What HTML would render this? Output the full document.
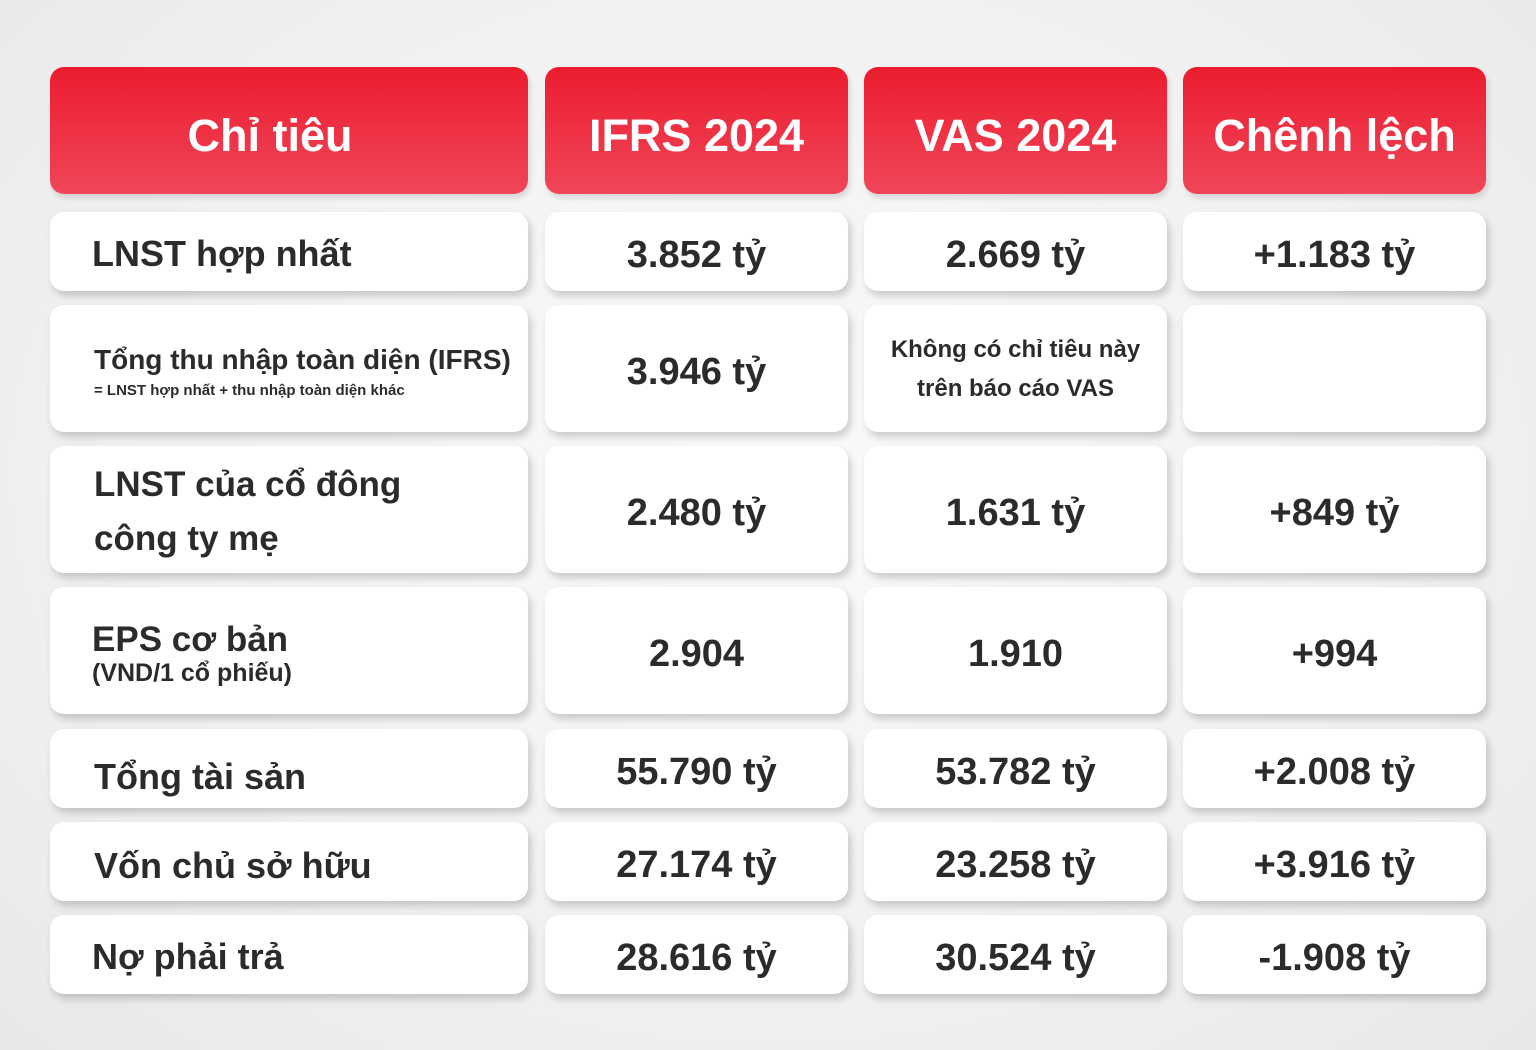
<!DOCTYPE html>
<html><head><meta charset="utf-8"><style>
*{margin:0;padding:0;box-sizing:border-box}
body{width:1536px;height:1050px;overflow:hidden;position:relative;font-family:"Liberation Sans","DejaVu Sans",sans-serif;
background:radial-gradient(ellipse at 50% 45%,#fafafa 0%,#f1f1f1 60%,#e8e8e8 100%);}
.c{position:absolute;border-radius:14px;background:#fff;box-shadow:3px 5px 8px rgba(0,0,0,0.18);display:flex;align-items:center;justify-content:center;color:#2b2b2b;font-weight:bold;text-align:center}
.h{background:linear-gradient(#ec1c2f,#ef4658);color:#fff;font-size:45px;padding-top:10px;box-shadow:2px 4px 6px rgba(0,0,0,0.12)}
.l{justify-content:flex-start;text-align:left;padding-left:44px}
.v{font-size:38px;padding-top:8px}
</style></head><body>
<div class="c h" style="left:50px;top:67px;width:478px;height:127px;padding-right:38px">Chỉ tiêu</div>
<div class="c h" style="left:545px;top:67px;width:303px;height:127px">IFRS 2024</div>
<div class="c h" style="left:864px;top:67px;width:303px;height:127px">VAS 2024</div>
<div class="c h" style="left:1183px;top:67px;width:303px;height:127px">Chênh lệch</div>

<div class="c l" style="left:50px;top:212px;width:478px;height:79px;font-size:36px;padding-left:42px;padding-top:4px">LNST hợp nhất</div>
<div class="c v" style="left:545px;top:212px;width:303px;height:79px">3.852 tỷ</div>
<div class="c v" style="left:864px;top:212px;width:303px;height:79px">2.669 tỷ</div>
<div class="c v" style="left:1183px;top:212px;width:303px;height:79px">+1.183 tỷ</div>

<div class="c l" style="left:50px;top:305px;width:478px;height:127px;flex-direction:column;align-items:flex-start;justify-content:center;padding-top:6px"><div style="font-size:28px">Tổng thu nhập toàn diện (IFRS)</div><div style="font-size:15px;margin-top:6px">= LNST hợp nhất + thu nhập toàn diện khác</div></div>
<div class="c v" style="left:545px;top:305px;width:303px;height:127px">3.946 tỷ</div>
<div class="c" style="left:864px;top:305px;width:303px;height:127px;font-size:24px;line-height:39px">Không có chỉ tiêu này<br>trên báo cáo VAS</div>
<div class="c" style="left:1183px;top:305px;width:303px;height:127px"></div>

<div class="c l" style="left:50px;top:446px;width:478px;height:127px;font-size:35px;line-height:54px;padding-top:4px">LNST của cổ đông<br>công ty mẹ</div>
<div class="c v" style="left:545px;top:446px;width:303px;height:127px">2.480 tỷ</div>
<div class="c v" style="left:864px;top:446px;width:303px;height:127px">1.631 tỷ</div>
<div class="c v" style="left:1183px;top:446px;width:303px;height:127px">+849 tỷ</div>

<div class="c l" style="left:50px;top:587px;width:478px;height:127px;flex-direction:column;align-items:flex-start;justify-content:center;padding-left:42px;padding-top:8px"><div style="font-size:35px;line-height:38px">EPS cơ bản</div><div style="font-size:25px">(VND/1 cổ phiếu)</div></div>
<div class="c v" style="left:545px;top:587px;width:303px;height:127px">2.904</div>
<div class="c v" style="left:864px;top:587px;width:303px;height:127px">1.910</div>
<div class="c v" style="left:1183px;top:587px;width:303px;height:127px">+994</div>

<div class="c l" style="left:50px;top:729px;width:478px;height:79px;font-size:36px;padding-top:16px">Tổng tài sản</div>
<div class="c v" style="left:545px;top:729px;width:303px;height:79px">55.790 tỷ</div>
<div class="c v" style="left:864px;top:729px;width:303px;height:79px">53.782 tỷ</div>
<div class="c v" style="left:1183px;top:729px;width:303px;height:79px">+2.008 tỷ</div>

<div class="c l" style="left:50px;top:822px;width:478px;height:79px;font-size:36px;padding-top:8px">Vốn chủ sở hữu</div>
<div class="c v" style="left:545px;top:822px;width:303px;height:79px">27.174 tỷ</div>
<div class="c v" style="left:864px;top:822px;width:303px;height:79px">23.258 tỷ</div>
<div class="c v" style="left:1183px;top:822px;width:303px;height:79px">+3.916 tỷ</div>

<div class="c l" style="left:50px;top:915px;width:478px;height:79px;font-size:36px;padding-left:42px;padding-top:4px">Nợ phải trả</div>
<div class="c v" style="left:545px;top:915px;width:303px;height:79px">28.616 tỷ</div>
<div class="c v" style="left:864px;top:915px;width:303px;height:79px">30.524 tỷ</div>
<div class="c v" style="left:1183px;top:915px;width:303px;height:79px">-1.908 tỷ</div>
</body></html>
